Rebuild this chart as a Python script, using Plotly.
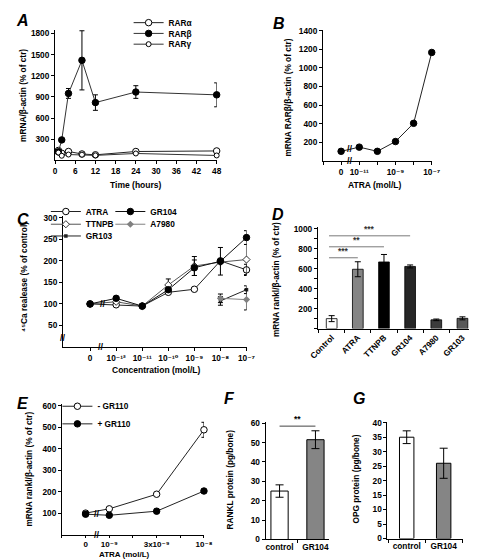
import plotly.graph_objects as go

W, H = 477, 559
FONT = "Liberation Sans, Arial, DejaVu Sans, sans-serif"

# ---------------- Panel A ----------------
a_time = [1, 2, 4, 8, 12, 24, 48]
a_rar_alpha = [140, 100, 125, 90, 78, 125, 133]
a_rar_beta = [120, 290, 950, 1420, 820, 970, 930]
a_rar_beta_err = [0, 0, 70, 420, 110, 90, 170]
a_rar_gamma = [110, 65, 82, 80, 70, 97, 69]
a_xticks = [0, 6, 12, 18, 24, 30, 36, 42, 48]
a_yticks = [300, 600, 900, 1200, 1500, 1800]

# ---------------- Panel B ----------------
b_pos = [0, 1, 2, 3, 4, 5]
b_rarb = [102, 147, 102, 207, 403, 1165]
b_tickvals = [0, 1, 3, 5]
b_ticktext = ["0", "10⁻¹¹", "10⁻⁹", "10⁻⁷"]
b_yticks = [200, 400, 600, 800, 1000, 1200, 1400]

# ---------------- Panel C ----------------
c_pos = [0, 1, 2, 3, 4, 5, 6]
c_atra = [100, 98, 95, 127, 134, 200, 179]
c_atra_err = [0, 0, 0, 0, 0, 0, 13]
c_ttnpb = [100, 105, 95, 144, 188, 197, 203]
c_ttnpb_err = [0, 0, 0, 14, 22, 0, 35]
c_gr104 = [100, 113, 95, 133, 184, 199, 254]
c_gr104_err = [0, 0, 0, 0, 18, 32, 16]
c_hi_pos = [5, 6]
c_gr103 = [107, 133]
c_gr103_err = [10, 9]
c_a7980 = [113, 110]
c_a7980_err = [10, 24]
c_tickvals = [0, 1, 2, 3, 4, 5, 6]
c_ticktext = ["0", "10⁻¹²", "10⁻¹¹", "10⁻¹⁰", "10⁻⁹", "10⁻⁸", "10⁻⁷"]
c_yticks = [50, 100, 150, 200, 250, 300]

# ---------------- Panel D ----------------
d_cats = ["Control", "ATRA", "TTNPB", "GR104", "A7980", "GR103"]
d_vals = [100, 595, 668, 623, 88, 103]
d_err = [30, 75, 75, 15, 8, 15]
d_colors = ["#ffffff", "#858585", "#000000", "#262626", "#3c3c3c", "#595959"]
d_sig = [("ATRA", 710, "***"), ("TTNPB", 820, "**"), ("GR104", 930, "***")]
d_yticks = [200, 400, 600, 800, 1000]

# ---------------- Panel E ----------------
e_pos = [1, 2, 4, 6]
e_minus = [100, 120, 188, 488]
e_minus_err = [8, 6, 6, 35]
e_plus = [95, 90, 109, 203]
e_plus_err = [10, 6, 10, 9]
e_tickvals = [1, 2, 4, 6]
e_ticktext = ["0", "10⁻⁹", "3x10⁻⁹", "10⁻⁸"]
e_yticks = [100, 200, 300, 400, 500, 600]

# ---------------- Panel F ----------------
f_cats = ["control", "GR104"]
f_vals = [25, 51.5]
f_err = [3.2, 4.6]
f_colors = ["#ffffff", "#858585"]
f_sig = ("control", "GR104", 58.5, "**")
f_yticks = [0, 10, 20, 30, 40, 50, 60]

# ---------------- Panel G ----------------
g_cats = ["control", "GR104"]
g_vals = [35, 26]
g_err = [2.2, 5.2]
g_colors = ["#ffffff", "#858585"]
g_yticks = [0, 5, 10, 15, 20, 25, 30, 35, 40]


def dx(a, b):
    return [a / W, b / W]


def dy(bottom, top):
    return [1 - bottom / H, 1 - top / H]


def bold(vals):
    return ["<b>%s</b>" % v for v in vals]


tickfont = dict(family=FONT, size=8.3, color="black")


def axis(**kw):
    base = dict(showline=True, linecolor="black", linewidth=1, ticks="outside",
                ticklen=3, tickwidth=1, tickcolor="black", showgrid=False,
                zeroline=False, tickfont=tickfont, fixedrange=True, tickmode="array")
    base.update(kw)
    return base


def minor(dtick, tick0=0, ticklen=3):
    return dict(ticks="outside", ticklen=ticklen, tickwidth=1, tickcolor="black",
                dtick=dtick, tick0=tick0, showgrid=False)


def err(arr, w=2.5):
    return dict(type="data", array=arr, color="black", thickness=1, width=w, visible=True)


def open_marker(size=6.5):
    return dict(symbol="circle", size=size, color="white", line=dict(color="black", width=1))


def filled_marker(size=6.5, color="black"):
    return dict(symbol="circle", size=size, color=color, line=dict(color=color, width=1))


fig = go.Figure()

# Panel A traces
fig.add_trace(go.Scatter(x=a_time, y=a_rar_alpha, name="<b>RARα</b>", mode="lines+markers",
                         line=dict(color="#222", width=1), marker=open_marker(6.5),
                         xaxis="x", yaxis="y", legend="legend", cliponaxis=False))
fig.add_trace(go.Scatter(x=a_time, y=a_rar_beta, name="<b>RARβ</b>", mode="lines+markers",
                         line=dict(color="#333", width=1), marker=filled_marker(6.5),
                         error_y=err(a_rar_beta_err), xaxis="x", yaxis="y",
                         legend="legend2", cliponaxis=False))
fig.add_trace(go.Scatter(x=a_time, y=a_rar_gamma, name="<b>RARγ</b>", mode="lines+markers",
                         line=dict(color="#333", width=1), marker=open_marker(5),
                         xaxis="x", yaxis="y", legend="legend3", cliponaxis=False))

# Panel B
fig.add_trace(go.Scatter(x=b_pos, y=b_rarb, mode="lines+markers", showlegend=False,
                         line=dict(color="#222", width=1), marker=filled_marker(6.5),
                         xaxis="x2", yaxis="y2", cliponaxis=False))

# Panel C
fig.add_trace(go.Scatter(x=c_pos, y=c_atra, name="<b>ATRA</b>", mode="lines+markers",
                         line=dict(color="#222", width=1), marker=open_marker(6.5),
                         error_y=err(c_atra_err), xaxis="x3", yaxis="y3",
                         legend="legend4", cliponaxis=False))
fig.add_trace(go.Scatter(x=c_pos, y=c_ttnpb, name="<b>TTNPB</b>", mode="lines+markers",
                         line=dict(color="#555", width=1),
                         marker=dict(symbol="diamond", size=5.5, color="white",
                                     line=dict(color="#333", width=1)),
                         error_y=err(c_ttnpb_err), xaxis="x3", yaxis="y3",
                         legend="legend5", cliponaxis=False))
fig.add_trace(go.Scatter(x=c_hi_pos, y=c_gr103, name="<b>GR103</b>", mode="lines+markers",
                         line=dict(color="#222", width=1),
                         marker=dict(symbol="square", size=3.5, color="#222"),
                         error_y=err(c_gr103_err), xaxis="x3", yaxis="y3",
                         legend="legend6", cliponaxis=False))
fig.add_trace(go.Scatter(x=c_pos, y=c_gr104, name="<b>GR104</b>", mode="lines+markers",
                         line=dict(color="#111", width=1), marker=filled_marker(6.5),
                         error_y=err(c_gr104_err), xaxis="x3", yaxis="y3",
                         legend="legend7", cliponaxis=False))
fig.add_trace(go.Scatter(x=c_hi_pos, y=c_a7980, name="<b>A7980</b>", mode="lines+markers",
                         line=dict(color="#808080", width=1),
                         marker=dict(symbol="diamond", size=5.5, color="#808080"),
                         error_y=err(c_a7980_err), xaxis="x3", yaxis="y3",
                         legend="legend8", cliponaxis=False))

# Panel D
fig.add_trace(go.Bar(x=d_cats, y=d_vals, width=0.41, showlegend=False,
                     marker=dict(color=d_colors, line=dict(color="black", width=0.8)),
                     error_y=err(d_err, 3), xaxis="x4", yaxis="y4", cliponaxis=False))

# Panel E
fig.add_trace(go.Scatter(x=e_pos, y=e_minus, name="<b>- GR110</b>", mode="lines+markers",
                         line=dict(color="#222", width=1), marker=open_marker(6.5),
                         error_y=err(e_minus_err), xaxis="x5", yaxis="y5",
                         legend="legend9", cliponaxis=False))
fig.add_trace(go.Scatter(x=e_pos, y=e_plus, name="<b>+ GR110</b>", mode="lines+markers",
                         line=dict(color="#222", width=1), marker=filled_marker(6.5),
                         error_y=err(e_plus_err), xaxis="x5", yaxis="y5",
                         legend="legend10", cliponaxis=False))

# Panel F
fig.add_trace(go.Bar(x=f_cats, y=f_vals, width=0.48, showlegend=False,
                     marker=dict(color=f_colors, line=dict(color="black", width=1)),
                     error_y=err(f_err, 4), xaxis="x6", yaxis="y6", cliponaxis=False))

# Panel G
fig.add_trace(go.Bar(x=g_cats, y=g_vals, width=0.39, showlegend=False,
                     marker=dict(color=g_colors, line=dict(color="black", width=1)),
                     error_y=err(g_err, 4), xaxis="x7", yaxis="y7", cliponaxis=False))

annotations = []
shapes = []


def text(x, y, s, size=8.5, xref="paper", yref="paper", angle=0, italic=False,
         xanchor="center", yanchor="middle", color="black"):
    inner = "<b>%s</b>" % s
    if italic:
        inner = "<i>%s</i>" % inner
    annotations.append(dict(x=x, y=y, xref=xref, yref=yref, text=inner, showarrow=False,
                            textangle=angle,
                            font=dict(family=FONT, size=size, color=color),
                            xanchor=xanchor, yanchor=yanchor))


def P(px, py):
    return px / W, 1 - py / H


# Panel letters
for letter, (px, py) in {"A": (6, 6), "B": (272, 9), "C": (6, 209), "D": (271, 204),
                         "E": (6, 397), "F": (221, 392), "G": (355, 392)}.items():
    x, y = P(px, py)
    text(x, y, letter, size=16, italic=True)

# Y titles
for s, (px, py) in [("mRNA/β-actin (% of ctr)", (7, 82)),
                    ("mRNA RARβ/β-actin (% of ctr)", (282, 84)),
                    ("⁴⁵Ca realease (% of control)", (8, 268)),
                    ("mRNA rankl/β-actin (% of ctr)", (269, 270)),
                    ("mRNA rankl/β-actin (% of ctr)", (12, 464)),
                    ("RANKL protein (pg/bone)", (221, 475)),
                    ("OPG protein (pg/bone)", (352, 474))]:
    x, y = P(px, py)
    text(x, y, s, size=8.3, angle=-90)

# X titles
for s, (px, py), sz in [("Time (hours)", (123, 174), 8.5), ("ATRA (mol/L)", (372, 174), 8.5),
                        ("Concentration (mol/L)", (144, 363), 8.5),
                        ("ATRA (mol/L)", (112, 551), 8)]:
    x, y = P(px, py)
    text(x, y, s, size=sz)

# Axis break marks
text(0.5, 0, "//", size=9, xref="x2", yref="y2")
text(0.5, 124, "//", size=9, xref="x2", yref="y2")
text(0.4, 0, "//", size=9, xref="x3", yref="y3")
text(0.5, 100, "//", size=9, xref="x3", yref="y3")
text(-1.04, 20, "//", size=9, xref="x3", yref="y3")
text(1.5, 0, "//", size=9, xref="x5", yref="y5")
text(1.5, 97, "//", size=9, xref="x5", yref="y5")

# Significance markers D
for target, yv, stars in d_sig:
    shapes.append(dict(type="line", xref="x4", yref="y4", x0=-0.1, x1=d_cats.index(target),
                       y0=yv, y1=yv, line=dict(color="#7a7a7a", width=1)))
    text((d_cats.index(target) - 0.1) / 2, yv, stars, size=8.5, xref="x4", yref="y4",
         yanchor="bottom", color="#333")
# Significance F
shapes.append(dict(type="line", xref="x6", yref="y6", x0=f_cats.index(f_sig[0]),
                   x1=f_cats.index(f_sig[1]), y0=f_sig[2], y1=f_sig[2],
                   line=dict(color="#444", width=1)))
text(0.5, f_sig[2], f_sig[3], size=8.5, xref="x6", yref="y6", yanchor="bottom")

legend_common = dict(bgcolor="rgba(0,0,0,0)", borderwidth=0, itemwidth=30,
                     font=dict(family=FONT, size=8.3, color="black"),
                     xanchor="left", yanchor="top", tracegroupgap=0, itemclick=False,
                     itemdoubleclick=False)

# legend positions: (left px, top px) -> each entry is its own legend box
legend_boxes = {"legend": (116, -7), "legend2": (116, 4), "legend3": (116, 15),
                "legend4": (30, 186), "legend5": (30, 199), "legend6": (30, 211),
                "legend7": (97, 186), "legend8": (97, 199),
                "legend9": (42, 385), "legend10": (42, 403)}
legend_layout = {}
for name, (px, py) in legend_boxes.items():
    x, y = P(px, py)
    legend_layout[name] = dict(x=x, y=y, **legend_common)

fig.update_layout(
    width=W, height=H, margin=dict(l=0, r=0, t=0, b=0),
    paper_bgcolor="white", plot_bgcolor="white",
    font=dict(family=FONT, size=8, color="black"),
    showlegend=True,
    annotations=annotations, shapes=shapes,
    xaxis=axis(domain=dx(39.5, 207.5), range=[0, 48], tickvals=a_xticks,
               ticktext=bold(a_xticks), anchor="y"),
    yaxis=axis(domain=dy(148.5, 15.4), range=[0, 1850], tickvals=a_yticks,
               ticktext=bold(a_yticks), anchor="x"),
    xaxis2=axis(domain=dx(318, 431), range=[-1, 5], tickvals=b_tickvals,
                ticktext=bold(b_ticktext), minor=minor(1, -1), anchor="y2"),
    yaxis2=axis(domain=dy(149, 15), range=[0, 1410], tickvals=b_yticks,
                ticktext=bold(b_yticks), anchor="x2"),
    xaxis3=axis(domain=dx(47.8, 238.5), range=[-1.04, 6], tickvals=c_tickvals,
                ticktext=bold(c_ticktext), tickangle=0, anchor="y3"),
    yaxis3=axis(domain=dy(339.3, 205), range=[0, 305], tickvals=c_yticks,
                ticktext=bold(c_yticks), anchor="x3"),
    xaxis4=axis(domain=dx(312.6, 476.5), range=[-0.53, 5.5], type="category",
                tickson="boundaries", tickangle=-45, tickvals=d_cats,
                ticktext=bold(d_cats), anchor="y4"),
    yaxis4=axis(domain=dy(320.5, 217), range=[0, 1015], tickvals=d_yticks,
                ticktext=bold(d_yticks), minor=minor(100), anchor="x4"),
    xaxis5=axis(domain=dx(46.7, 194.3), range=[0, 6], tickvals=e_tickvals,
                ticktext=bold(e_ticktext), ticklen=2, tickangle=0,
                tickfont=dict(family=FONT, size=8, color="black"),
                minor=minor(1, 0, 2), anchor="y5"),
    yaxis5=axis(domain=dy(531, 398), range=[0, 606], tickvals=e_yticks,
                ticktext=bold(e_yticks), anchor="x5"),
    xaxis6=axis(domain=dx(258.3, 324.7), range=[-0.39, 1.39], type="category",
                tickson="boundaries", tickvals=f_cats, ticktext=bold(f_cats),
                tickangle=0, anchor="y6"),
    yaxis6=axis(domain=dy(536, 416), range=[0, 60.6], tickvals=f_yticks,
                ticktext=bold(f_yticks), anchor="x6"),
    xaxis7=axis(domain=dx(385, 463), range=[-0.52, 1.51], type="category",
                tickson="boundaries", tickvals=g_cats, ticktext=bold(g_cats),
                tickangle=0, anchor="y7"),
    yaxis7=axis(domain=dy(535, 415.5), range=[0, 40.4], tickvals=g_yticks,
                ticktext=bold(g_yticks), anchor="x7"),
    **legend_layout,
)

fig.write_html("out.html")
